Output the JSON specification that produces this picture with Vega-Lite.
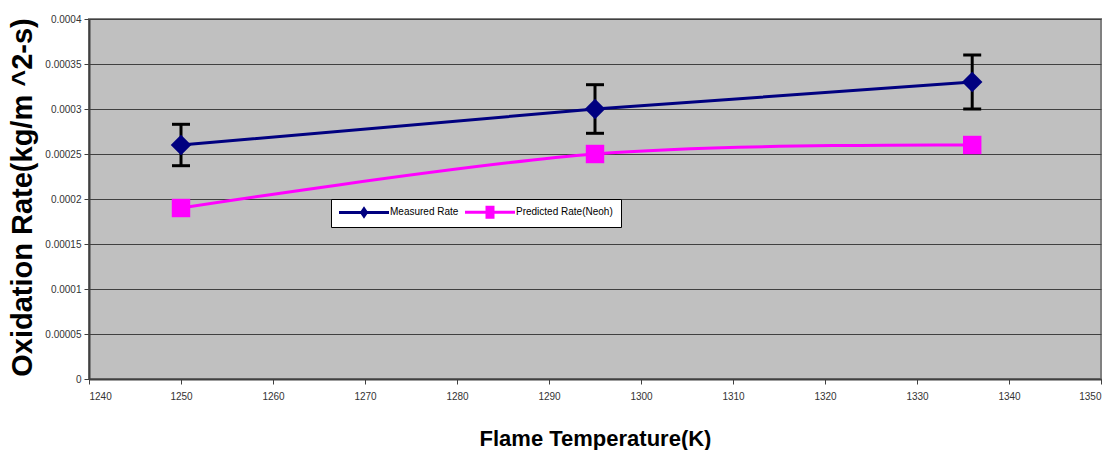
{
  "$schema": "https://vega.github.io/schema/vega-lite/v6.json",
  "width": 1012,
  "height": 360,
  "autosize": {"type": "none"},
  "padding": {"left": 89, "top": 19, "right": 11, "bottom": 71},
  "background": "white",
  "config": {
    "view": {"fill": "#C0C0C0", "stroke": "#808080", "strokeWidth": 2},
    "font": "Liberation Sans"
  },
  "data": {
    "values": [
      {"T": 1250, "rate": 0.00026, "series": "Measured Rate", "lo": 0.000237, "hi": 0.000283},
      {"T": 1295, "rate": 0.0003, "series": "Measured Rate", "lo": 0.000273, "hi": 0.000327},
      {"T": 1336, "rate": 0.00033, "series": "Measured Rate", "lo": 0.0003, "hi": 0.00036},
      {"T": 1250, "rate": 0.00019, "series": "Predicted Rate(Neoh)"},
      {"T": 1295, "rate": 0.00025, "series": "Predicted Rate(Neoh)"},
      {"T": 1336, "rate": 0.00026, "series": "Predicted Rate(Neoh)"}
    ]
  },
  "layer": [
    {
      "transform": [{"filter": "datum.series === 'Measured Rate'"}],
      "mark": {"type": "line", "strokeWidth": 3, "color": "#000080"},
      "encoding": {
        "x": {
          "field": "T", "type": "quantitative",
          "scale": {"domain": [1240, 1350], "nice": false, "zero": false},
          "axis": {
            "title": "Flame Temperature(K)",
            "titleFont": "Liberation Sans",
            "titleFontSize": 22,
            "titleFontWeight": "bold",
            "titleColor": "black",
            "titleX": 506,
            "titleY": 59,
            "titleBaseline": "middle",
            "values": [1240, 1250, 1260, 1270, 1280, 1290, 1300, 1310, 1320, 1330, 1340, 1350],
            "format": "d",
            "grid": false,
            "domainColor": "#404040",
            "domainWidth": 2,
            "tickColor": "#404040",
            "tickSize": 5,
            "labelFontSize": 10,
            "labelColor": "#333333",
            "labelPadding": 7
          }
        },
        "y": {
          "field": "rate", "type": "quantitative",
          "scale": {"domain": [0, 0.0004], "nice": false},
          "axis": {
            "title": "Oxidation Rate(kg/m ^2-s)",
            "titleFontSize": 29,
            "titleFontWeight": "bold",
            "titleColor": "black",
            "titleX": -67,
            "titleY": 178,
            "titleAngle": -90,
            "titleAlign": "center",
            "titleBaseline": "middle",
            "values": [0, 0.00005, 0.0001, 0.00015, 0.0002, 0.00025, 0.0003, 0.00035, 0.0004],
            "format": "~f",
            "grid": true,
            "gridColor": "#404040",
            "gridWidth": 1,
            "domainColor": "#404040",
            "domainWidth": 2,
            "tickColor": "#404040",
            "tickSize": 5,
            "labelFontSize": 10,
            "labelColor": "#333333",
            "labelPadding": 3
          }
        }
      }
    },
    {
      "transform": [{"filter": "datum.series === 'Predicted Rate(Neoh)'"}],
      "mark": {"type": "line", "strokeWidth": 3, "color": "#FF00FF", "interpolate": "cardinal", "tension": 0},
      "encoding": {
        "x": {"field": "T", "type": "quantitative"},
        "y": {"field": "rate", "type": "quantitative"}
      }
    },
    {
      "transform": [{"filter": "datum.series === 'Measured Rate'"}],
      "mark": {"type": "rule", "strokeWidth": 3, "color": "black"},
      "encoding": {
        "x": {"field": "T", "type": "quantitative"},
        "y": {"field": "lo", "type": "quantitative"},
        "y2": {"field": "hi"}
      }
    },
    {
      "transform": [{"filter": "datum.series === 'Measured Rate'"}],
      "mark": {"type": "tick", "orient": "horizontal", "size": 18, "thickness": 3, "color": "black", "opacity": 1},
      "encoding": {
        "x": {"field": "T", "type": "quantitative"},
        "y": {"field": "lo", "type": "quantitative"}
      }
    },
    {
      "transform": [{"filter": "datum.series === 'Measured Rate'"}],
      "mark": {"type": "tick", "orient": "horizontal", "size": 18, "thickness": 3, "color": "black", "opacity": 1},
      "encoding": {
        "x": {"field": "T", "type": "quantitative"},
        "y": {"field": "hi", "type": "quantitative"}
      }
    },
    {
      "transform": [{"filter": "datum.series === 'Measured Rate'"}],
      "mark": {"type": "point", "shape": "diamond", "filled": true, "size": 420, "color": "#000080", "opacity": 1},
      "encoding": {
        "x": {"field": "T", "type": "quantitative"},
        "y": {"field": "rate", "type": "quantitative"}
      }
    },
    {
      "transform": [{"filter": "datum.series === 'Predicted Rate(Neoh)'"}],
      "mark": {"type": "point", "shape": "square", "filled": true, "size": 340, "color": "#FF00FF", "opacity": 1},
      "encoding": {
        "x": {"field": "T", "type": "quantitative"},
        "y": {"field": "rate", "type": "quantitative"}
      }
    },
    {
      "transform": [{"filter": "datum.T > 99999"}],
      "mark": {"type": "point", "filled": true, "opacity": 1},
      "encoding": {
        "x": {"field": "T", "type": "quantitative"},
        "y": {"field": "rate", "type": "quantitative"},
        "color": {
          "field": "series", "type": "nominal",
          "scale": {"domain": ["Measured Rate", "Predicted Rate(Neoh)"], "range": ["#000080", "#FF00FF"]},
          "legend": {
            "title": null,
            "orient": "none",
            "legendX": 242,
            "legendY": 180,
            "direction": "horizontal",
            "fillColor": "white",
            "strokeColor": "black",
            "padding": 8,
            "symbolSize": 100,
            "symbolOffset": 20,
            "symbolOpacity": 1,
            "symbolStrokeWidth": 0,
            "labelFontSize": 10,
            "labelColor": "black",
            "labelOffset": 21,
            "columnPadding": 6
          }
        },
        "shape": {
          "field": "series", "type": "nominal",
          "scale": {"domain": ["Measured Rate", "Predicted Rate(Neoh)"], "range": ["M-5,-0.3H5V0.3H-5Z M0,-1.25L0.85,0L0,1.25L-0.85,0Z", "M-5,-0.3H5V0.3H-5Z M-0.9,-1.3H0.9V1.3H-0.9Z"]}
        }
      }
    }
  ]
}
